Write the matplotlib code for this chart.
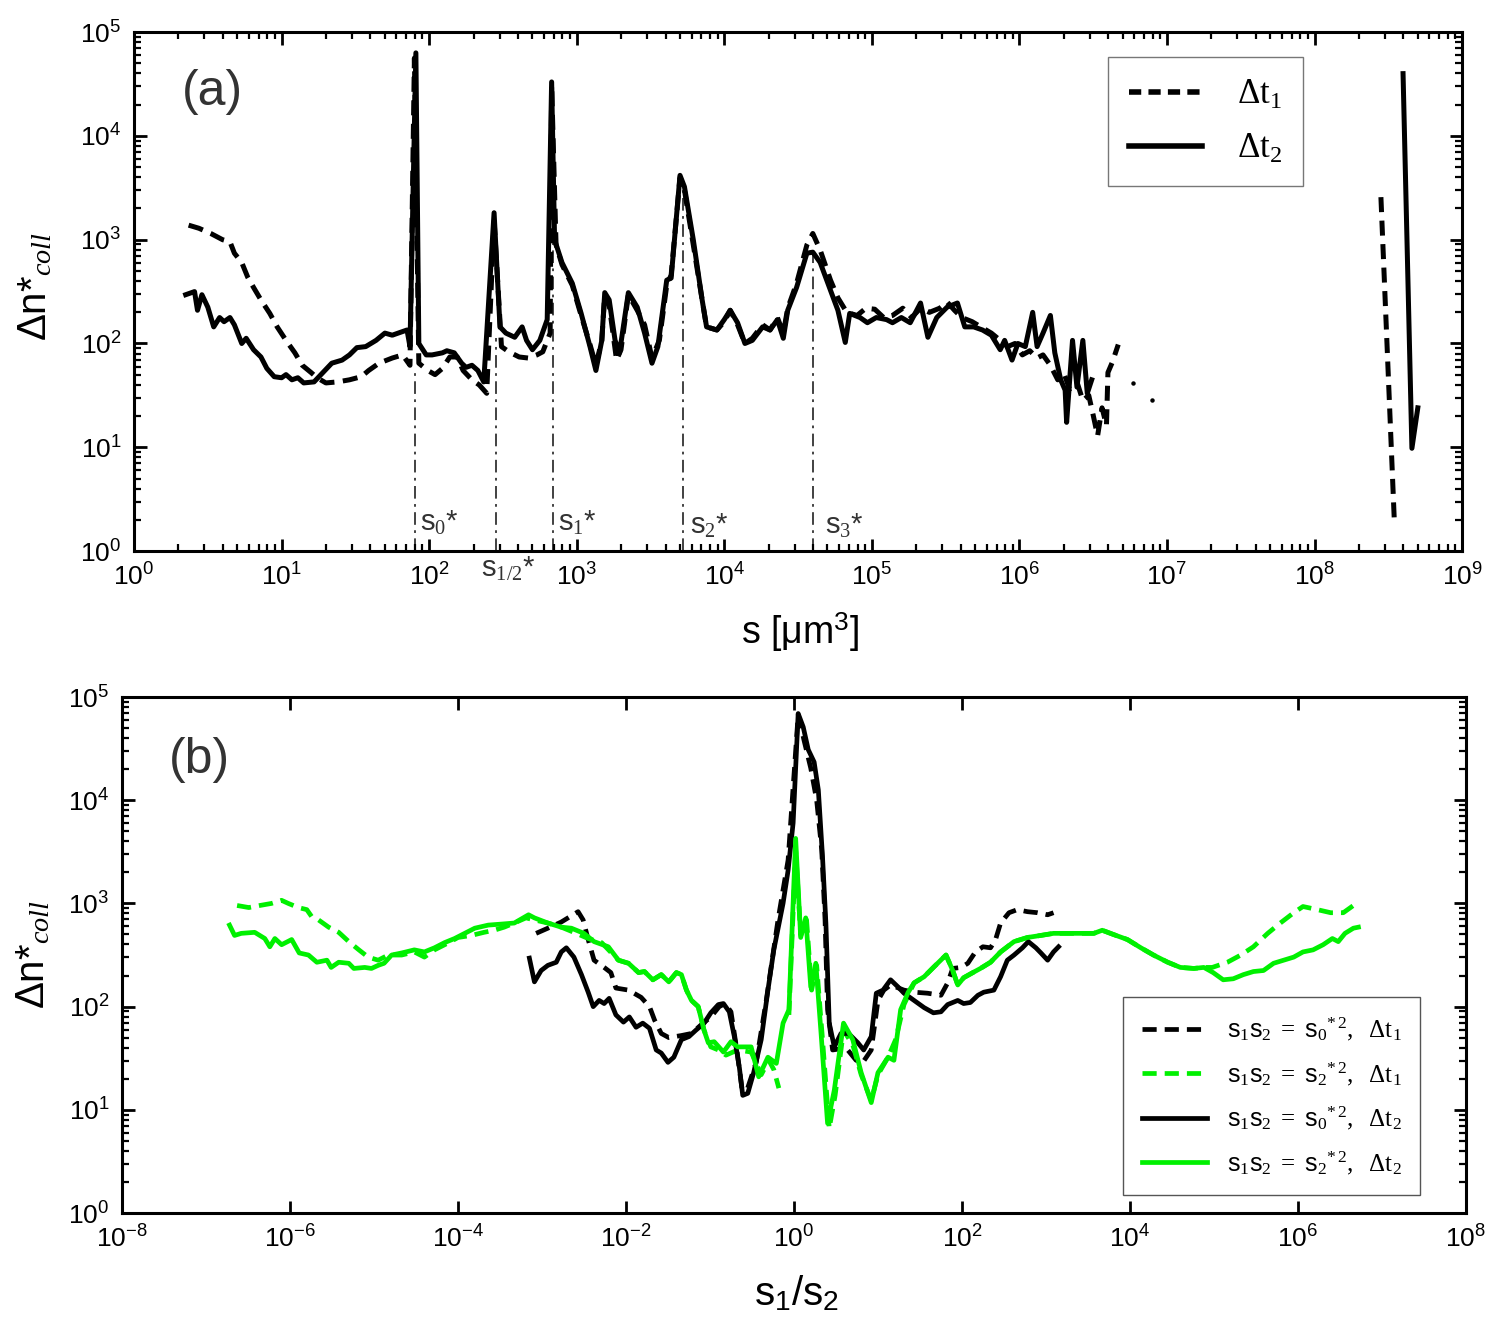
import numpy as np
import matplotlib

matplotlib.use("Agg")
import matplotlib.pyplot as plt
from matplotlib.lines import Line2D
from matplotlib.ticker import LogLocator, FixedLocator, NullLocator, LogFormatterSciNotation, NullFormatter

plt.rcParams["font.family"] = ["Liberation Sans", "DejaVu Sans"]
plt.rcParams["mathtext.fontset"] = "custom"
plt.rcParams["mathtext.rm"] = "Liberation Serif"
plt.rcParams["mathtext.it"] = "Liberation Serif:italic"
plt.rcParams["mathtext.sf"] = "Liberation Sans"

# ---------- (a) data, stored as log10 values ----------
# dt1 (dashed)
a_dt1_logs = [0.37, 0.44, 0.52, 0.60, 0.65, 0.68, 0.73, 0.77, 0.81, 0.86, 0.92, 0.97, 1.03, 1.09,
              1.14, 1.20, 1.24, 1.30, 1.38, 1.46, 1.54, 1.59, 1.66, 1.75, 1.82, 1.87, 1.90, 1.93,
              1.99, 2.04, 2.09, 2.14, 2.19, 2.23, 2.29, 2.34, 2.39, 2.44, 2.49, 2.54, 2.61, 2.67,
              2.73, 2.77, 2.82, 2.83, 2.86, 2.90, 2.97, 3.03, 3.09, 3.13, 3.17, 3.19, 3.22, 3.27,
              3.30, 3.35, 3.41, 3.46, 3.51, 3.56, 3.61, 3.64, 3.70, 3.73, 3.79, 3.85, 3.88, 3.95,
              4.00, 4.04, 4.09, 4.14, 4.19, 4.26, 4.31, 4.36, 4.40, 4.43, 4.49, 4.56, 4.60, 4.65,
              4.72, 4.77, 4.83, 4.90, 4.96, 5.02, 5.08, 5.14, 5.21, 5.27, 5.33, 5.39, 5.46, 5.51,
              5.56, 5.61, 5.68, 5.75, 5.81, 5.87, 5.92, 5.97, 6.02, 6.07, 6.12, 6.16, 6.21, 6.26,
              6.30, 6.34, 6.39, 6.43, 6.47, 6.50, 6.53, 6.56, 6.59, 6.60, 6.63, 6.67]
a_dt1_logn = [3.14, 3.11, 3.06, 3.00, 2.98, 2.87, 2.78, 2.64, 2.54, 2.42, 2.29, 2.16, 2.03, 1.91,
              1.79, 1.72, 1.67, 1.62, 1.63, 1.65, 1.68, 1.74, 1.81, 1.86, 1.89, 1.79, 4.75, 1.81,
              1.74, 1.70, 1.76, 1.87, 1.87, 1.74, 1.65, 1.60, 1.52, 3.19, 1.97, 1.92, 1.87, 1.86,
              1.89, 1.92, 2.10, 4.49, 2.95, 2.76, 2.56, 2.27, 1.99, 1.79, 2.03, 2.47, 2.37, 1.84,
              1.94, 2.47, 2.32, 2.18, 1.86, 2.03, 2.56, 2.66, 3.60, 3.48, 2.95, 2.42, 2.16, 2.13,
              2.21, 2.32, 2.18, 2.00, 2.05, 2.18, 2.13, 2.25, 2.10, 2.34, 2.58, 2.95, 3.06, 2.90,
              2.61, 2.44, 2.30, 2.27, 2.34, 2.33, 2.25, 2.27, 2.34, 2.25, 2.34, 2.30, 2.34, 2.40,
              2.32, 2.25, 2.21, 2.15, 2.10, 2.03, 1.97, 2.00, 1.89, 1.93, 1.86, 1.89, 1.79, 1.65,
              1.72, 1.56, 1.63, 1.45, 1.50, 1.31, 1.11, 1.38, 1.21, 1.72, 1.82, 1.99]
a_dt1_dots_logs = [6.77, 6.90]
a_dt1_dots_logn = [1.62, 1.46]
a_dt1_tail_logs = [8.45, 8.54]
a_dt1_tail_logn = [3.41, 0.32]

# dt2 (solid)
a_dt2_logs = [0.35, 0.41, 0.43, 0.46, 0.50, 0.54, 0.58, 0.61, 0.65, 0.68, 0.73, 0.76, 0.81, 0.86,
              0.90, 0.95, 1.00, 1.03, 1.07, 1.11, 1.15, 1.22, 1.28, 1.34, 1.41, 1.46, 1.51, 1.57,
              1.64, 1.70, 1.75, 1.81, 1.85, 1.87, 1.91, 1.93, 1.98, 2.02, 2.09, 2.12, 2.17, 2.22,
              2.25, 2.29, 2.33, 2.37, 2.44, 2.48, 2.52, 2.58, 2.63, 2.66, 2.70, 2.75, 2.80, 2.83,
              2.85, 2.90, 2.97, 3.03, 3.09, 3.13, 3.17, 3.19, 3.22, 3.26, 3.29, 3.35, 3.41, 3.46,
              3.51, 3.55, 3.61, 3.64, 3.70, 3.73, 3.79, 3.85, 3.88, 3.95, 4.00, 4.04, 4.09, 4.14,
              4.19, 4.26, 4.31, 4.36, 4.40, 4.43, 4.49, 4.56, 4.60, 4.65, 4.72, 4.77, 4.82, 4.85,
              4.92, 4.97, 5.03, 5.10, 5.14, 5.20, 5.26, 5.33, 5.38, 5.44, 5.51, 5.58, 5.63, 5.69,
              5.75, 5.81, 5.87, 5.90, 5.95, 5.99, 6.04, 6.09, 6.12, 6.16, 6.21, 6.24, 6.28, 6.31,
              6.32, 6.36, 6.39, 6.43, 6.46, 6.49]
a_dt2_logn = [2.47, 2.50, 2.32, 2.47, 2.35, 2.16, 2.25, 2.21, 2.25, 2.18, 2.00, 2.05, 1.94, 1.87,
              1.76, 1.68, 1.67, 1.70, 1.65, 1.67, 1.62, 1.63, 1.72, 1.81, 1.84, 1.89, 1.96, 1.97,
              2.03, 2.10, 2.08, 2.11, 2.13, 1.97, 4.80, 2.00, 1.89, 1.89, 1.91, 1.93, 1.91, 1.81,
              1.77, 1.79, 1.74, 1.63, 3.26, 2.16, 2.10, 2.06, 2.16, 2.03, 1.94, 2.03, 2.23, 4.52,
              3.00, 2.78, 2.58, 2.29, 1.97, 1.74, 2.03, 2.49, 2.42, 2.03, 1.91, 2.49, 2.35, 2.10,
              1.81, 1.97, 2.61, 2.63, 3.62, 3.51, 3.00, 2.42, 2.16, 2.13, 2.23, 2.32, 2.20, 2.00,
              2.03, 2.16, 2.13, 2.23, 2.05, 2.32, 2.54, 2.87, 2.88, 2.78, 2.51, 2.32, 2.01, 2.29,
              2.25, 2.20, 2.25, 2.23, 2.20, 2.25, 2.20, 2.39, 2.06, 2.25, 2.35, 2.39, 2.16, 2.16,
              2.13, 2.08, 1.94, 2.03, 1.84, 2.00, 1.97, 2.30, 1.97, 2.10, 2.27, 1.91, 1.65, 1.55,
              1.24, 2.03, 1.58, 2.03, 1.52, 1.65]
a_dt2_tail_logs = [8.60, 8.66, 8.70]
a_dt2_tail_logn = [4.60, 0.99, 1.38]

# characteristic sizes s*, and how high each marker line reaches
star_logs = [1.906, 2.456, 2.836, 3.718, 4.600]
star_top_logn = [1.76, 2.05, 3.02, 3.48, 2.87]
star_names = [r"$\mathsf{s}_0$*", r"$\mathsf{s}_{1/2}$*", r"$\mathsf{s}_1$*",
              r"$\mathsf{s}_2$*", r"$\mathsf{s}_3$*"]
star_label_logs = [1.94, 2.35, 2.875, 3.766, 4.68]
star_label_logn = [0.27, -0.17, 0.27, 0.24, 0.24]

# ---------- (b) data, log10 of s1/s2 and of dn*coll ----------
b_s0_dt1_logx = [-3.07, -2.93, -2.77, -2.57, -2.51, -2.45, -2.38, -2.26, -2.18, -2.12, -1.97, -1.82,
                 -1.72, -1.66, -1.58, -1.49, -1.34, -1.22, -1.11, -0.99, -0.89, -0.82, -0.75, -0.68,
                 -0.62, -0.56, -0.45, -0.33, -0.19, -0.07, 0.05, 0.12, 0.20, 0.27, 0.33, 0.37, 0.40,
                 0.46, 0.62, 0.74, 0.82, 0.92, 1.00, 1.07, 1.15, 1.31, 1.43, 1.59, 1.75, 1.83, 1.89,
                 1.99, 2.07, 2.16, 2.25, 2.34, 2.40, 2.46, 2.56, 2.66, 2.78, 2.90, 3.02, 3.09]
b_s0_dt1_logy = [2.71, 2.76, 2.82, 2.92, 2.84, 2.65, 2.45, 2.38, 2.33, 2.18, 2.16, 2.09,
                 2.00, 1.87, 1.74, 1.70, 1.72, 1.74, 1.82, 1.90, 2.00, 2.03, 1.95, 1.58,
                 1.21, 1.19, 1.46, 2.06, 2.84, 3.42, 4.83, 4.58, 4.31, 4.00, 3.52, 2.84, 1.97,
                 1.58, 1.60, 1.48, 1.46, 1.58, 2.06, 2.16, 2.21, 2.16, 2.14, 2.13, 2.11, 2.23, 2.37,
                 2.38, 2.42, 2.53, 2.58, 2.57, 2.65, 2.81, 2.91, 2.94, 2.92, 2.91, 2.89, 2.91]

b_s0_dt2_logx = [-3.15, -3.09, -3.01, -2.93, -2.83, -2.77, -2.71, -2.62, -2.53, -2.45, -2.39, -2.32,
                 -2.26, -2.20, -2.12, -2.03, -1.96, -1.88, -1.80, -1.72, -1.64, -1.58, -1.50, -1.43,
                 -1.34, -1.25, -1.17, -1.07, -0.99, -0.90, -0.84, -0.77, -0.71, -0.65, -0.61, -0.55,
                 -0.48, -0.39, -0.31, -0.24, -0.13, -0.07, -0.01, 0.05, 0.11, 0.17, 0.24, 0.29, 0.34,
                 0.38, 0.42, 0.48, 0.56, 0.65, 0.76, 0.83, 0.92, 0.98, 1.06, 1.15, 1.24, 1.31, 1.43,
                 1.55, 1.66, 1.75, 1.83, 1.95, 2.02, 2.10, 2.19, 2.26, 2.38, 2.46, 2.54, 2.62, 2.72,
                 2.79, 2.88, 2.94, 3.02, 3.09, 3.15]
b_s0_dt2_logy = [2.47, 2.24, 2.35, 2.40, 2.43, 2.53, 2.57, 2.48, 2.31, 2.14, 2.00, 2.06,
                 2.03, 2.08, 1.92, 1.85, 1.90, 1.80, 1.84, 1.79, 1.58, 1.55, 1.46, 1.51,
                 1.68, 1.71, 1.77, 1.84, 1.94, 2.02, 2.03, 1.95, 1.71, 1.41, 1.14, 1.16,
                 1.36, 1.68, 2.16, 2.55, 3.00, 3.32, 3.78, 4.84, 4.71, 4.49, 4.37, 4.10, 3.45,
                 2.81, 1.84, 1.61, 1.74, 1.74, 1.65, 1.58, 1.71, 2.13, 2.16, 2.26, 2.19, 2.13, 2.06,
                 1.99, 1.94, 1.95, 2.02, 2.06, 2.03, 2.04, 2.11, 2.14, 2.16, 2.29, 2.45, 2.50, 2.57,
                 2.63, 2.57, 2.52, 2.45, 2.53, 2.58]

b_s2_dt1_logx = [-6.63, -6.49, -6.36, -6.22, -6.10, -6.02, -5.90, -5.80, -5.74, -5.66, -5.54, -5.42,
                 -5.30, -5.18, -5.07, -4.95, -4.83, -4.67, -4.52, -4.40, -4.28, -4.11, -4.00, -3.84,
                 -3.69, -3.57, -3.45, -3.33, -3.19, -3.09, -2.93, -2.77, -2.62, -2.45, -2.29, -2.09,
                 -1.97, -1.85, -1.78, -1.68, -1.58, -1.49, -1.40, -1.34, -1.28, -1.22, -1.14, -1.07,
                 -0.99, -0.90, -0.81, -0.67, -0.51, -0.39, -0.30, -0.24, -0.18, np.nan,
                 -0.06, 0.02, 0.08, 0.15, 0.21, 0.27, 0.34, 0.42, 0.49, 0.59, 0.70, 0.80, 0.92,
                 1.00, 1.12, 1.21, 1.31, 1.43, 1.55, 1.66, 1.81, 1.89, 1.95, 2.02, 2.13, 2.22, 2.34,
                 2.46, 2.62, 2.78, 2.94, 3.09, 3.26, 3.41, 3.57, 3.67, 3.80, 3.97, 4.13, 4.28, 4.45,
                 4.60, 4.76, 4.88, 4.98, 5.16, 5.32, 5.47, 5.64, 5.79, 5.95, 6.06, 6.23, 6.39, 6.54,
                 6.66]
b_s2_dt1_logy = [2.98, 2.96, 2.98, 3.00, 3.03, 3.00, 2.96, 2.94, 2.87, 2.84, 2.77, 2.72,
                 2.63, 2.55, 2.48, 2.45, 2.50, 2.50, 2.53, 2.48, 2.55, 2.62, 2.67, 2.69,
                 2.72, 2.74, 2.77, 2.81, 2.86, 2.84, 2.81, 2.77, 2.72, 2.66, 2.62, 2.45,
                 2.42, 2.33, 2.34, 2.26, 2.31, 2.24, 2.33, 2.31, 2.16, 2.06, 2.00, 1.77,
                 1.61, 1.58, 1.53, 1.58, 1.56, 1.34, 1.48, 1.39, 1.21, np.nan,
                 1.92, 3.52, 2.69, 2.84, 2.16, 2.40, 1.68, 0.82, 1.14, 1.77, 1.63, 1.34, 1.09,
                 1.34, 1.51, 1.68, 2.02, 2.23, 2.29, 2.38, 2.50, 2.35, 2.21, 2.28, 2.33, 2.37, 2.43,
                 2.53, 2.63, 2.67, 2.69, 2.71, 2.71, 2.71, 2.71, 2.74, 2.70, 2.65, 2.57, 2.50, 2.43,
                 2.38, 2.37, 2.38, 2.38, 2.43, 2.50, 2.58, 2.71, 2.81, 2.91, 2.97, 2.94, 2.91, 2.91,
                 2.98]

b_s2_dt2_logx = [-6.72, -6.66, -6.58, -6.42, -6.30, -6.24, -6.18, -6.10, -5.98, -5.89, -5.78, -5.68,
                 -5.56, -5.51, -5.42, -5.30, -5.24, -5.11, -5.03, -4.95, -4.88, -4.79, -4.67, -4.52,
                 -4.40, -4.28, -4.16, -4.04, -3.92, -3.80, -3.64, -3.48, -3.33, -3.16, -3.09, -2.93,
                 -2.77, -2.65, -2.50, -2.38, -2.21, -2.09, -1.97, -1.85, -1.78, -1.68, -1.58, -1.49,
                 -1.40, -1.34, -1.28, -1.22, -1.14, -1.07, -1.02, -0.95, -0.84, -0.75, -0.67, -0.51,
                 -0.42, -0.31, -0.21, -0.13, -0.06, 0.02, 0.08, 0.14, 0.20, 0.26, 0.32, 0.40, 0.48,
                 0.59, 0.70, 0.80, 0.92, 1.00, 1.12, 1.19, 1.27, 1.36, 1.43, 1.55, 1.66, 1.81, 1.89,
                 1.95, 2.02, 2.13, 2.22, 2.34, 2.46, 2.62, 2.78, 2.94, 3.09, 3.26, 3.41, 3.57, 3.67,
                 3.80, 3.97, 4.13, 4.28, 4.45, 4.60, 4.76, 4.88, 4.99, 5.11, 5.23, 5.35, 5.47, 5.59,
                 5.71, 5.83, 5.95, 6.06, 6.18, 6.30, 6.41, 6.48, 6.56, 6.66, 6.72]
b_s2_dt2_logy = [2.79, 2.69, 2.71, 2.72, 2.66, 2.58, 2.66, 2.60, 2.65, 2.52, 2.50, 2.43,
                 2.45, 2.38, 2.43, 2.42, 2.37, 2.38, 2.37, 2.40, 2.42, 2.50, 2.52, 2.55,
                 2.53, 2.57, 2.62, 2.66, 2.71, 2.76, 2.79, 2.80, 2.81, 2.89, 2.86, 2.81,
                 2.77, 2.76, 2.71, 2.63, 2.58, 2.45, 2.42, 2.33, 2.34, 2.26, 2.31, 2.24,
                 2.33, 2.31, 2.16, 2.06, 2.00, 1.77, 1.65, 1.66, 1.56, 1.66, 1.61, 1.61,
                 1.32, 1.51, 1.45, 1.84, 1.97, 3.63, 2.67, 2.86, 2.19, 2.42, 1.77, 0.87, 1.19,
                 1.84, 1.68, 1.36, 1.07, 1.36, 1.51, 1.48, 1.97, 2.14, 2.23, 2.29, 2.38, 2.50, 2.35,
                 2.21, 2.28, 2.33, 2.37, 2.43, 2.53, 2.63, 2.67, 2.69, 2.71, 2.71, 2.71, 2.71, 2.74,
                 2.70, 2.65, 2.57, 2.50, 2.43, 2.38, 2.37, 2.38, 2.33, 2.26, 2.27, 2.31, 2.34, 2.35,
                 2.42, 2.45, 2.48, 2.53, 2.55, 2.60, 2.66, 2.63, 2.71, 2.76, 2.77]

GREEN = "#00f000"
LW_A = 3.6
LW_B = 3.4
DASH = (3.0, 1.7)


def style_axes(ax):
    for sp in ax.spines.values():
        sp.set_linewidth(2.2)
    ax.tick_params(which="both", direction="in", top=True, right=True,
                   labelsize=19, pad=9)
    ax.tick_params(which="major", length=9, width=2.0)
    ax.tick_params(which="minor", length=5, width=1.6)
    ax.yaxis.set_major_locator(LogLocator(base=10, numticks=10))
    ax.yaxis.set_minor_locator(LogLocator(base=10, subs=np.arange(2, 10), numticks=100))
    ax.yaxis.set_major_formatter(LogFormatterSciNotation())
    ax.yaxis.set_minor_formatter(NullFormatter())


fig = plt.figure(figsize=(14.86, 13.33), dpi=100)

# =================== (a) ===================
ax1 = fig.add_axes([0.0902, 0.5866, 0.8937, 0.3893])
p = lambda v: 10 ** np.asarray(v, dtype=float)

ax1.plot(p(a_dt1_logs), p(a_dt1_logn), color="black", lw=LW_A, dashes=DASH)
ax1.plot(p(a_dt1_tail_logs), p(a_dt1_tail_logn), color="black", lw=LW_A, dashes=DASH)
ax1.plot(p(a_dt1_dots_logs), p(a_dt1_dots_logn), ls="none", marker="o",
         ms=2.2, color="black")
ax1.plot(p(a_dt2_logs), p(a_dt2_logn), color="black", lw=LW_A)
ax1.plot(p(a_dt2_tail_logs), p(a_dt2_tail_logn), color="black", lw=LW_A)

for xs, top, name, lx, ly in zip(star_logs, star_top_logn, star_names,
                                 star_label_logs, star_label_logn):
    ax1.plot([10 ** xs, 10 ** xs], [1, 10 ** top], color="#333333", lw=1.3,
             dashes=(7, 3, 1.5, 3), zorder=1)
    ax1.text(10 ** lx, 10 ** ly, name, fontsize=21, color="#333333",
             ha="left", va="center", clip_on=False)

ax1.set_xscale("log")
ax1.set_yscale("log")
ax1.set_xlim(1, 1e9)
ax1.set_ylim(1, 1e5)
style_axes(ax1)
ax1.xaxis.set_major_locator(LogLocator(base=10, numticks=12))
ax1.xaxis.set_minor_locator(LogLocator(base=10, subs=np.arange(2, 10), numticks=100))
ax1.xaxis.set_minor_formatter(NullFormatter())

ax1.text(0.036, 0.885, "(a)", transform=ax1.transAxes, fontsize=36,
         color="#333333", ha="left", va="center")
ax1.set_xlabel(r"s [$\mathsf{\mu}$m$^{\mathsf{3}}$]", fontsize=27)
ax1.xaxis.set_label_coords(0.5015, -0.115)
ax1.set_ylabel(r"Δn*$_{coll}$", fontsize=29)
ax1.yaxis.set_label_coords(-0.060, 0.51)

leg_a = [Line2D([0], [0], color="black", lw=4, dashes=(2.2, 1.3)),
         Line2D([0], [0], color="black", lw=4)]
ax1.legend(leg_a, [r"$\Delta\mathrm{t}_1$", r"$\Delta\mathrm{t}_2$"],
           loc="upper right", bbox_to_anchor=(0.880, 0.952), borderaxespad=0,
           fontsize=25, frameon=True, fancybox=False, framealpha=1,
           edgecolor="#777777", handlelength=2.1, handletextpad=1.0,
           borderpad=0.6, labelspacing=0.6)

# =================== (b) ===================
ax2 = fig.add_axes([0.0821, 0.0900, 0.9044, 0.3871])
ax2.plot(p(b_s0_dt1_logx), p(b_s0_dt1_logy), color="black", lw=LW_B, dashes=DASH,
         label=r"$\mathsf{s}_1\mathsf{s}_2\ \mathrm{=}\ \mathsf{s}_0{}^{*\,2},\ \ \Delta\mathrm{t}_1$")
ax2.plot(p(b_s2_dt1_logx), p(b_s2_dt1_logy), color=GREEN, lw=LW_B, dashes=DASH,
         label=r"$\mathsf{s}_1\mathsf{s}_2\ \mathrm{=}\ \mathsf{s}_2{}^{*\,2},\ \ \Delta\mathrm{t}_1$")
ax2.plot(p(b_s0_dt2_logx), p(b_s0_dt2_logy), color="black", lw=LW_B,
         label=r"$\mathsf{s}_1\mathsf{s}_2\ \mathrm{=}\ \mathsf{s}_0{}^{*\,2},\ \ \Delta\mathrm{t}_2$")
ax2.plot(p(b_s2_dt2_logx), p(b_s2_dt2_logy), color=GREEN, lw=LW_B,
         label=r"$\mathsf{s}_1\mathsf{s}_2\ \mathrm{=}\ \mathsf{s}_2{}^{*\,2},\ \ \Delta\mathrm{t}_2$")

ax2.set_xscale("log")
ax2.set_yscale("log")
ax2.set_xlim(1e-8, 1e8)
ax2.set_ylim(1, 1e5)
style_axes(ax2)
ax2.xaxis.set_major_locator(FixedLocator([10.0 ** k for k in range(-8, 9, 2)]))
ax2.xaxis.set_major_formatter(LogFormatterSciNotation())
ax2.xaxis.set_minor_locator(NullLocator())

ax2.text(0.035, 0.878, "(b)", transform=ax2.transAxes, fontsize=36,
         color="#333333", ha="left", va="center")
ax2.set_xlabel(r"$\mathsf{s}_{\mathsf{1}}\mathsf{/s}_{\mathsf{2}}$", fontsize=29)
ax2.xaxis.set_label_coords(0.502, -0.118)
ax2.set_ylabel(r"Δn*$_{coll}$", fontsize=29)
ax2.yaxis.set_label_coords(-0.052, 0.5)

ax2.legend(loc="upper right", bbox_to_anchor=(0.966, 0.419), borderaxespad=0,
           fontsize=18, frameon=True, fancybox=False, framealpha=1,
           edgecolor="#555555", handlelength=2.6, handletextpad=0.8,
           borderpad=0.75, labelspacing=0.68)

fig.savefig("out.png", dpi=100, facecolor="white")
